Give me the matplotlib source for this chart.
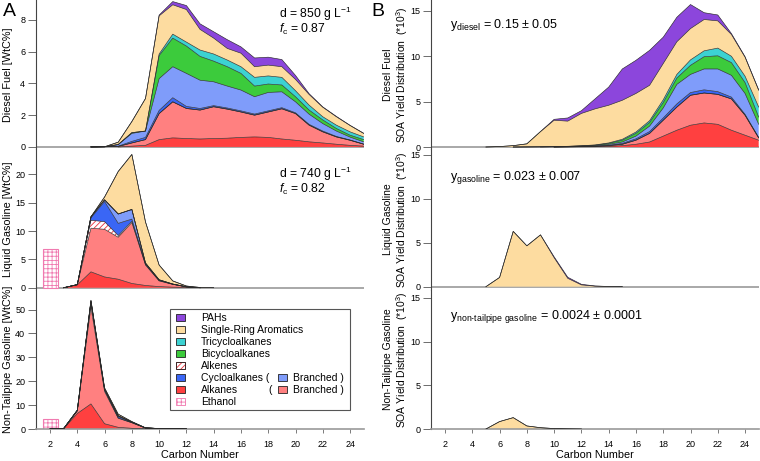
import numpy as np
import matplotlib.pyplot as plt
from matplotlib.patches import Rectangle

plt.rcParams['font.family'] = ['Liberation Sans', 'DejaVu Sans']
plt.rcParams['mathtext.fontset'] = 'custom'
plt.rcParams['mathtext.rm'] = 'Liberation Sans'
plt.rcParams['mathtext.it'] = 'Liberation Sans:italic'
plt.rcParams['hatch.linewidth'] = 0.6

# carbon numbers 1..25
carbon = np.arange(1, 26)
ethanol_x = [2]

# ---- A: fuel composition [WtC%] ----
diesel_alkanes   = [0,0,0,0,0,0,0,0.05,0.1,0.46,0.57,0.53,0.5,0.53,0.55,0.6,0.63,0.6,0.5,0.42,0.32,0.25,0.17,0.1,0.05]
diesel_br_alk    = [0,0,0,0,0,0.01,0.03,0.2,0.36,1.64,2.27,1.89,1.82,2.0,1.83,1.6,1.37,1.6,1.9,1.68,1.05,0.7,0.46,0.32,0.12]
diesel_alkenes   = [0]*25
diesel_cyclo     = [0,0,0,0,0,0,0.02,0.1,0.14,0.2,0.26,0.13,0.1,0.07,0.07,0.07,0.07,0.07,0.07,0.05,0.05,0.05,0.03,0.02,0.01]
diesel_br_cyclo  = [0,0,0,0,0,0,0.1,0.5,0.4,2.0,1.95,2.08,1.78,1.5,1.38,1.31,1.09,1.16,1.0,0.69,0.64,0.47,0.34,0.18,0.14]
diesel_bicyclo   = [0,0,0,0,0,0,0,0.05,0,1.45,1.8,1.72,1.5,1.3,1.22,1.05,0.67,0.53,0.43,0.32,0.26,0.23,0.16,0.12,0.14]
diesel_tricyclo  = [0,0,0,0,0,0,0,0,0,0.1,0.25,0.25,0.4,0.45,0.42,0.42,0.55,0.51,0.48,0.38,0.31,0.2,0.21,0.21,0.17]
diesel_aromatics = [0,0,0,0,0,0,0.15,0.7,2.05,2.4,1.85,2.05,1.3,1.0,0.73,0.85,0.67,0.68,0.67,0.71,0.67,0.6,0.53,0.4,0.22]
diesel_pah       = [0,0,0,0,0,0,0,0,0,0.05,0.2,0.25,0.35,0.4,0.55,0.4,0.55,0.5,0.45,0.25,0.05,0.02,0.02,0.01,0.01]

gas_alkanes   = [0,0,0,0.5,2.8,1.9,1.5,0.75,0.4,0.2,0.1,0.05,0,0,0,0,0,0,0,0,0,0,0,0,0]
gas_br_alk    = [0,0,0,0.05,7.7,8.4,7.4,10.75,3.6,1.0,0.5,0.1,0,0,0,0,0,0,0,0,0,0,0,0,0]
gas_alkenes   = [0,0,0,0,1.4,1.35,0.3,0.2,0.1,0.05,0,0,0,0,0,0,0,0,0,0,0,0,0,0,0]
gas_cyclo     = [0,0,0,0,0.4,3.55,2.15,0.4,0.1,0.05,0.03,0,0,0,0,0,0,0,0,0,0,0,0,0,0]
gas_br_cyclo  = [0,0,0,0,0.2,0.3,1.65,1.7,0.15,0.1,0.02,0.02,0,0,0,0,0,0,0,0,0,0,0,0,0]
gas_bicyclo   = [0]*25
gas_tricyclo  = [0]*25
gas_aromatics = [0,0,0,0,0,0.5,7.5,9.7,7.25,2.6,0.55,0.13,0.05,0,0,0,0,0,0,0,0,0,0,0,0]
gas_pah       = [0]*25
gas_ethanol   = [6.9]

ntp_alkanes   = [0,0,0.1,6.5,10.5,2.2,0.7,0.3,0.1,0.05,0,0,0,0,0,0,0,0,0,0,0,0,0,0,0]
ntp_br_alk    = [0,0,0.1,1.0,40.5,13.5,3.8,2.3,0.3,0.15,0.1,0,0,0,0,0,0,0,0,0,0,0,0,0,0]
ntp_alkenes   = [0,0,0,0.2,2.0,0.5,0.1,0.05,0,0,0,0,0,0,0,0,0,0,0,0,0,0,0,0,0]
ntp_cyclo     = [0,0,0,0.1,0.3,0.3,0.6,0.15,0.05,0,0,0,0,0,0,0,0,0,0,0,0,0,0,0,0]
ntp_br_cyclo  = [0,0,0,0,0.2,0.2,0.3,0.1,0,0,0,0,0,0,0,0,0,0,0,0,0,0,0,0,0]
ntp_bicyclo   = [0]*25
ntp_tricyclo  = [0]*25
ntp_aromatics = [0,0,0,0.1,0.4,0.5,0.7,0.2,0.05,0,0,0,0,0,0,0,0,0,0,0,0,0,0,0,0]
ntp_pah       = [0]*25
ntp_ethanol   = [4.0]

# ---- B: SOA yield distribution (*10^3) ----
soa_d_alkanes   = [0,0,0,0,0,0,0,0,0,0,0.01,0.02,0.03,0.07,0.15,0.3,0.55,1.2,1.85,2.4,2.65,2.5,1.85,1.3,0.75]
soa_d_br_alk    = [0,0,0,0,0,0,0,0,0,0,0.01,0.02,0.04,0.08,0.15,0.45,0.95,1.75,2.55,3.3,3.3,3.3,3.45,2.2,0.25]
soa_d_alkenes   = [0]*25
soa_d_cyclo     = [0,0,0,0,0,0,0,0,0,0.01,0.01,0.02,0.03,0.05,0.1,0.15,0.2,0.25,0.35,0.3,0.35,0.3,0.2,0.1,0.05]
soa_d_br_cyclo  = [0,0,0,0,0,0,0,0.01,0.02,0.02,0.03,0.04,0.06,0.1,0.15,0.3,0.6,1.1,2.15,2.0,2.3,2.5,2.4,2.3,1.45]
soa_d_bicyclo   = [0,0,0,0,0,0,0,0,0,0.01,0.01,0.03,0.04,0.1,0.2,0.3,0.4,0.6,0.7,1.0,1.35,1.45,1.4,1.2,0.8]
soa_d_tricyclo  = [0,0,0,0,0,0,0,0,0,0,0.01,0.01,0.03,0.05,0.1,0.15,0.2,0.3,0.4,0.6,0.65,0.85,0.7,0.7,1.1]
soa_d_aromatics = [0,0,0,0,0,0.05,0.15,0.34,1.68,2.91,2.77,3.56,3.97,4.15,4.3,4.25,3.9,4.0,3.6,3.45,3.45,3.0,2.4,2.1,1.85]
soa_d_pah       = [0,0,0,0,0,0,0,0,0,0.1,0.35,0.3,1.1,2.0,3.45,3.65,3.85,2.9,2.7,2.65,0.75,0.65,0.1,0.05,0.05]

soa_g_aromatics = [0,0,0,0,0,1.05,6.3,4.65,5.9,3.3,0.95,0.2,0.06,0.02,0,0,0,0,0,0,0,0,0,0,0]
soa_g_pah       = [0,0,0,0,0,0,0,0,0,0.1,0.12,0.07,0.02,0,0,0,0,0,0,0,0,0,0,0,0]

soa_n_aromatics = [0,0,0,0,0,0.85,1.3,0.35,0.15,0.05,0.02,0,0,0,0,0,0,0,0,0,0,0,0,0,0]

zeros = [0]*25

# layer styles bottom -> top: (face, hatch, hatch colour)
styles = [
    ("#FF4040", None, None),        # Alkanes
    ("#FF8080", None, None),        # Branched alkanes
    ("white", "//////", "#E8303A"), # Alkenes
    ("#3A66F5", None, None),        # Cycloalkanes
    ("#7F9CFA", None, None),        # Branched cycloalkanes
    ("#3CCB3C", None, None),        # Bicycloalkanes
    ("#3CD2D2", None, None),        # Tricycloalkanes
    ("#FDDCA0", None, None),        # Single-ring aromatics
    ("#8C46DC", None, None),        # PAHs
]
ethanol_style = ("white", "++++", "#F07AB0")


def draw_stack(ax, layers):
    base = np.zeros(len(carbon))
    tops = []
    for vals, (face, hatch, hcol) in zip(layers, styles):
        top = base + np.asarray(vals, dtype=float)
        if hatch:
            ax.fill_between(carbon, base, top, facecolor=face, edgecolor=hcol,
                            hatch=hatch, lw=0, zorder=2)
        else:
            ax.fill_between(carbon, base, top, facecolor=face, lw=0, zorder=2)
        tops.append(top)
        base = top
    for top in tops:
        empty = (top == 0) & (np.roll(top, 1) == 0) & (np.roll(top, -1) == 0)
        ax.plot(carbon, np.ma.masked_where(empty, top), color="#2a2a2a",
                lw=0.45, zorder=3)


W, H = 760, 461
fig = plt.figure(figsize=(W / 100, H / 100), dpi=100)


def px_axes(left, right, top, bottom):
    return fig.add_axes([left / W, 1 - bottom / H, (right - left) / W, (bottom - top) / H])


rows = [(0, 149), (149, 290), (290, 429)]
left_axes = [px_axes(36.4, 363.7, t, b) for t, b in rows]
right_axes = [px_axes(431.4, 758.7, t, b) for t, b in rows]

left_data = [
    [diesel_alkanes, diesel_br_alk, diesel_alkenes, diesel_cyclo, diesel_br_cyclo,
     diesel_bicyclo, diesel_tricyclo, diesel_aromatics, diesel_pah],
    [gas_alkanes, gas_br_alk, gas_alkenes, gas_cyclo, gas_br_cyclo,
     gas_bicyclo, gas_tricyclo, gas_aromatics, gas_pah],
    [ntp_alkanes, ntp_br_alk, ntp_alkenes, ntp_cyclo, ntp_br_cyclo,
     ntp_bicyclo, ntp_tricyclo, ntp_aromatics, ntp_pah],
]
right_data = [
    [soa_d_alkanes, soa_d_br_alk, soa_d_alkenes, soa_d_cyclo, soa_d_br_cyclo,
     soa_d_bicyclo, soa_d_tricyclo, soa_d_aromatics, soa_d_pah],
    [zeros, zeros, zeros, zeros, zeros, zeros, zeros, soa_g_aromatics, soa_g_pah],
    [zeros, zeros, zeros, zeros, zeros, zeros, zeros, soa_n_aromatics, zeros],
]

left_ylims = [(-0.13, 9.25), (-0.4, 24.46), (0, 58.2)]
right_ylims = [(-0.22, 16.2), (-0.38, 15.68), (0, 15.9)]
left_yticks = [[0, 2, 4, 6, 8], [0, 5, 10, 15, 20], [0, 10, 20, 30, 40, 50]]
left_ylabels = ["Diesel Fuel [WtC%]", "Liquid Gasoline [WtC%]", "Non-Tailpipe Gasoline [WtC%]"]
right_ylabels = ["Diesel Fuel\nSOA Yield Distribution  (*10$^3$)",
                 "Liquid Gasoline\nSOA Yield Distribution  (*10$^3$)",
                 "Non-Tailpipe Gasoline\nSOA Yield Distribution  (*10$^3$)"]

for i in range(3):
    for ax, data, ylim in ((left_axes[i], left_data[i], left_ylims[i]),
                           (right_axes[i], right_data[i], right_ylims[i])):
        draw_stack(ax, data)
        ax.set_xlim(1, 25)
        ax.set_ylim(*ylim)
        ax.spines["top"].set_visible(False)
        ax.spines["right"].set_visible(False)
        ax.spines["left"].set_color("#444444")
        ax.spines["left"].set_linewidth(0.8)
        ax.tick_params(axis="y", labelsize=6.5, length=5.5, width=0.6,
                       color="#555555", pad=2.5)
        ax.set_xticks(np.arange(2, 25, 2))
        if i < 2:
            ax.spines["bottom"].set_visible(False)
            ax.axhline(0, color="#999999", lw=1.2, zorder=1)
            ax.tick_params(axis="x", bottom=False, labelbottom=False)
        else:
            ax.spines["bottom"].set_color("#999999")
            ax.spines["bottom"].set_linewidth(1.2)
            ax.tick_params(axis="x", labelsize=6.5, length=3, width=0.6,
                           color="#666666", pad=5)
            ax.set_xlabel("Carbon Number", fontsize=7.8)
            ax.xaxis.set_label_coords(0.5, -0.15)
    left_axes[i].set_yticks(left_yticks[i])
    right_axes[i].set_yticks([0, 5, 10, 15])
    left_axes[i].set_ylabel(left_ylabels[i], fontsize=7.8)
    left_axes[i].yaxis.set_label_coords(-0.07, 0.5)
    right_axes[i].set_ylabel(right_ylabels[i], fontsize=7.5, linespacing=1.15)
    right_axes[i].yaxis.set_label_coords(-0.065, 0.5)

# ethanol bars
for ax, val in ((left_axes[1], gas_ethanol), (left_axes[2], ntp_ethanol)):
    ax.bar(ethanol_x, val, width=1.1, facecolor=ethanol_style[0],
           edgecolor=ethanol_style[2], hatch=ethanol_style[1], lw=0.8, zorder=2)

# annotations
left_axes[0].text(0.741, 0.91, "d = 850 g L$^{-1}$", transform=left_axes[0].transAxes,
                  fontsize=8.7, va="center")
left_axes[0].text(0.741, 0.80, "$f_\\mathrm{c}$ = 0.87", transform=left_axes[0].transAxes,
                  fontsize=8.7, va="center")
left_axes[1].text(0.741, 0.825, "d = 740 g L$^{-1}$", transform=left_axes[1].transAxes,
                  fontsize=8.7, va="center")
left_axes[1].text(0.741, 0.71, "$f_\\mathrm{c}$ = 0.82", transform=left_axes[1].transAxes,
                  fontsize=8.7, va="center")
right_axes[0].text(0.057, 0.832, "y$_{\\mathrm{diesel}}$ = 0.15 ± 0.05",
                   transform=right_axes[0].transAxes, fontsize=9, va="center")
right_axes[1].text(0.057, 0.80, "y$_{\\mathrm{gasoline}}$ = 0.023 ± 0.007",
                   transform=right_axes[1].transAxes, fontsize=9, va="center")
right_axes[2].text(0.057, 0.806, "y$_{\\mathrm{non\\text{-}tailpipe\\ gasoline}}$ = 0.0024 ± 0.0001",
                   transform=right_axes[2].transAxes, fontsize=9, va="center")

fig.text(3 / W, 1 - 11 / H, "A", fontsize=14, va="center")
fig.text(371 / W, 1 - 11 / H, "B", fontsize=14, va="center")

# hand-made legend in the bottom-left panel
lax = left_axes[2]
tr = lax.transAxes
lax.add_patch(Rectangle((0.4077, 0.1367), 0.55, 0.7266, transform=tr, facecolor="white",
                        edgecolor="#555555", lw=0.8, zorder=5))
legend_rows = [
    ("PAHs", styles[8], None),
    ("Single-Ring Aromatics", styles[7], None),
    ("Tricycloalkanes", styles[6], None),
    ("Bicycloalkanes", styles[5], None),
    ("Alkenes", styles[2], None),
    ("Cycloalkanes (", styles[3], styles[4]),
    ("Alkanes", styles[0], styles[1]),
    ("Ethanol", ethanol_style, None),
]
pw, ph = 0.0275, 0.05
px0 = 0.4270
for k, (label, st, st2) in enumerate(legend_rows):
    yc = (429 - (317.5 + 12 * k)) / 139
    face, hatch, hcol = st
    if hatch:
        lax.add_patch(Rectangle((px0, yc - ph / 2), pw, ph, transform=tr,
                                facecolor=face, edgecolor=hcol, hatch=hatch,
                                lw=0.6, zorder=6))
        if label == "Alkenes":
            lax.add_patch(Rectangle((px0, yc - ph / 2), pw, ph, transform=tr,
                                    facecolor="none", edgecolor="#222222", lw=0.6, zorder=6))
    else:
        lax.add_patch(Rectangle((px0, yc - ph / 2), pw, ph, transform=tr,
                                facecolor=face, edgecolor="#222222", lw=0.6, zorder=6))
    lax.text(0.503, yc, label, transform=tr, fontsize=7.5, va="center", zorder=7)
    if st2 is not None:
        if label == "Alkanes":
            lax.text(0.7076, yc, "(", transform=tr, fontsize=7.5, va="center", zorder=7)
        lax.add_patch(Rectangle((0.738, yc - ph / 2), pw, ph, transform=tr,
                                facecolor=st2[0], edgecolor="#222222", lw=0.6, zorder=6))
        lax.text(0.784, yc, "Branched )", transform=tr, fontsize=7.5, va="center", zorder=7)

fig.savefig("out.png", dpi=100)
